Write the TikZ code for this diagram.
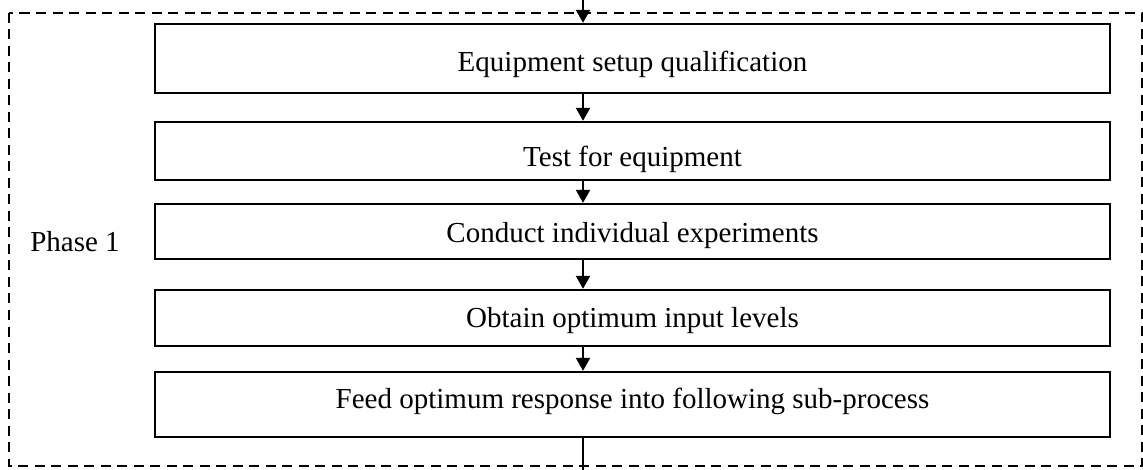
\documentclass[tikz,border=0pt]{standalone}
\usepackage{fontspec}
\setmainfont{Liberation Serif}
\usetikzlibrary{arrows.meta}
\begin{document}
\begin{tikzpicture}[x=1pt,y=-1pt,
  stepbox/.style={draw, line width=2.4pt, minimum width=955pt, inner sep=0pt,
    text depth=0pt, font=\fontsize{29}{34}\selectfont},
  flow/.style={line width=2.2pt, -{Triangle[length=13pt,width=14pt]}},
  frame/.style={line width=2.3pt, dash pattern=on 10pt off 6.5pt}]
\useasboundingbox (0,0) rectangle (1143,470);
% dashed phase frame
\draw[frame] (9,13) rectangle (1142,466);
% process steps (text height shifts each baseline inside its box)
\node[stepbox, minimum height=69pt, text height=27pt] (b1) at (632.5,58.5) {Equipment setup qualification};
\node[stepbox, minimum height=58pt, text height=32pt] (b2) at (632.5,151) {Test for equipment};
\node[stepbox, minimum height=55pt, text height=23pt] (b3) at (632.5,231.5) {Conduct individual experiments};
\node[stepbox, minimum height=56pt, text height=18pt] (b4) at (632.5,318) {Obtain optimum input levels};
\node[stepbox, minimum height=65pt, text height=7pt] (b5) at (632.5,404.5) {Feed optimum response into following sub-process};
\node[font=\fontsize{29}{34}\selectfont] (ph) at (75,242) {Phase 1};
% connector column
\coordinate (top) at (583,0);
\coordinate (bot) at (583,470);
\draw[flow] (top) -- (b1.north -| top);
\draw[flow] (b1.south -| top) -- (b2.north -| top);
\draw[flow] (b2.south -| top) -- (b3.north -| top);
\draw[flow] (b3.south -| top) -- (b4.north -| top);
\draw[flow] (b4.south -| top) -- (b5.north -| top);
\draw[line width=2.2pt] (b5.south -| top) -- (bot);
\end{tikzpicture}
\end{document}
